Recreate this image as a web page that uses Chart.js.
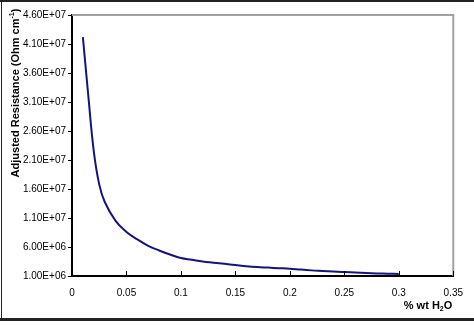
<!DOCTYPE html>
<html>
<head>
<meta charset="utf-8">
<script src="https://cdn.jsdelivr.net/npm/chart.js@4/dist/chart.umd.min.js"></script>
<style>
  html, body { margin: 0; padding: 0; background: #fff; }
  #wrap { width: 474px; height: 326px; position: relative; }
</style>
</head>
<body>
<div id="wrap"><canvas id="canvasChart" width="474" height="326"></canvas></div>
<script>
// % wt H2O
var waterPct = [0.01, 0.015, 0.02, 0.025, 0.03, 0.04, 0.05, 0.06, 0.07, 0.08, 0.09, 0.10,
  0.11, 0.12, 0.13, 0.14, 0.15, 0.16, 0.17, 0.18, 0.19, 0.20,
  0.21, 0.22, 0.23, 0.24, 0.25, 0.26, 0.27, 0.28, 0.29, 0.30];
// adjusted resistance (Ohm cm-1)
var resistance = [4.22e7, 3.2e7, 2.25e7, 1.68e7, 1.38e7, 1.05e7, 8.6e6, 7.3e6, 6.2e6, 5.4e6, 4.7e6, 4.1e6,
  3.8e6, 3.5e6, 3.3e6, 3.1e6, 2.9e6, 2.7e6, 2.55e6, 2.45e6, 2.35e6, 2.25e6,
  2.1e6, 1.97e6, 1.87e6, 1.77e6, 1.67e6, 1.6e6, 1.52e6, 1.45e6, 1.4e6, 1.36e6];

var xTitle = ['% wt H', '2', 'O'];
var yTitle = ['Adjusted Resistance (Ohm cm', '-1', ')'];

var points = [];
for (var i = 0; i < waterPct.length; i++) {
  points.push({ x: waterPct[i], y: resistance[i] });
}

function sci(v) {
  var s = v.toExponential(2).toUpperCase();
  var parts = s.split('E');
  var exp = parseInt(parts[1], 10);
  var sign = exp < 0 ? '-' : '+';
  var e = Math.abs(exp);
  return parts[0] + 'E' + sign + (e < 10 ? '0' + e : e);
}

// frame, gray plot border, inside x ticks and the axis titles
var decor = {
  id: 'decor',
  beforeDraw: function (chart) {
    var ctx = chart.ctx;
    ctx.save();
    ctx.fillStyle = '#fff';
    ctx.fillRect(0, 0, chart.width, chart.height);
    ctx.fillStyle = '#222';
    ctx.fillRect(0, 0, chart.width, 2);
    ctx.fillRect(1, 0, 1, 320);
    ctx.fillRect(0, 318, chart.width, 3);
    ctx.restore();
  },
  afterDraw: function (chart) {
    var ctx = chart.ctx;
    var a = chart.chartArea;
    var xs = chart.scales.x;
    ctx.save();
    ctx.strokeStyle = '#a0a0a0';
    ctx.lineWidth = 2;
    ctx.beginPath();
    ctx.moveTo(a.left, a.top);
    ctx.lineTo(a.right, a.top);
    ctx.lineTo(a.right, a.bottom);
    ctx.stroke();

    ctx.strokeStyle = '#000';
    ctx.lineWidth = 1;
    xs.ticks.forEach(function (t) {
      var px = Math.round(xs.getPixelForValue(t.value)) + 0.5;
      ctx.beginPath();
      ctx.moveTo(px, a.bottom);
      ctx.lineTo(px, a.bottom - 5);
      ctx.stroke();
    });

    ctx.fillStyle = '#000';
    ctx.textBaseline = 'alphabetic';
    // x title, right aligned under the plot
    var big = 'bold 11px "Liberation Sans", Arial, sans-serif';
    var small = 'bold 7px "Liberation Sans", Arial, sans-serif';
    ctx.font = big;
    var w0 = ctx.measureText(xTitle[0]).width;
    var w2 = ctx.measureText(xTitle[2]).width;
    ctx.font = small;
    var w1 = ctx.measureText(xTitle[1]).width;
    var x0 = a.right - 1 - (w0 + w1 + w2);
    var by = 309;
    ctx.font = big;
    ctx.fillText(xTitle[0], x0, by);
    ctx.font = small;
    ctx.fillText(xTitle[1], x0 + w0, by + 2);
    ctx.font = big;
    ctx.fillText(xTitle[2], x0 + w0 + w1, by);

    // y title, rotated
    ctx.font = big;
    var v0 = ctx.measureText(yTitle[0]).width;
    var v2 = ctx.measureText(yTitle[2]).width;
    ctx.font = small;
    var v1 = ctx.measureText(yTitle[1]).width;
    var total = v0 + v1 + v2;
    ctx.translate(19, 93);
    ctx.rotate(-Math.PI / 2);
    var sx = -total / 2;
    ctx.font = big;
    ctx.fillText(yTitle[0], sx, 0);
    ctx.font = small;
    ctx.fillText(yTitle[1], sx + v0, -5);
    ctx.font = big;
    ctx.fillText(yTitle[2], sx + v0 + v1, 0);
    ctx.restore();
  }
};

var canvas = document.getElementById('canvasChart');
var chart = new Chart(canvas, {
  type: 'line',
  data: {
    datasets: [{
      data: points,
      borderColor: '#14147f',
      borderWidth: 2,
      pointRadius: 0,
      fill: false,
      tension: 0.4
    }]
  },
  options: {
    responsive: false,
    animation: false,
    layout: { padding: { left: 0, top: 15, right: 16, bottom: 0 } },
    plugins: {
      legend: { display: false },
      tooltip: { enabled: false }
    },
    scales: {
      x: {
        type: 'linear',
        min: 0,
        max: 0.35,
        grid: { drawOnChartArea: false, drawTicks: false },
        border: { display: true, color: '#000', width: 2 },
        ticks: {
          stepSize: 0.05,
          padding: 11,
          color: '#000',
          font: { family: '"Liberation Sans", Arial, sans-serif', size: 10 },
          maxRotation: 0,
          callback: function (v) { return String(+v.toFixed(2)); }
        },
        afterFit: function (s) { s.height = 50; }
      },
      y: {
        min: 1e6,
        max: 4.6e7,
        grid: { drawOnChartArea: false, drawTicks: true, tickLength: 4, color: '#000' },
        border: { display: true, color: '#000', width: 2 },
        ticks: {
          stepSize: 5e6,
          padding: 2,
          color: '#000',
          font: { family: '"Liberation Sans", Arial, sans-serif', size: 10 },
          callback: function (v) { return sci(v); }
        },
        afterFit: function (s) { s.width = 72; }
      }
    }
  },
  plugins: [decor]
});
</script>
</body>
</html>
